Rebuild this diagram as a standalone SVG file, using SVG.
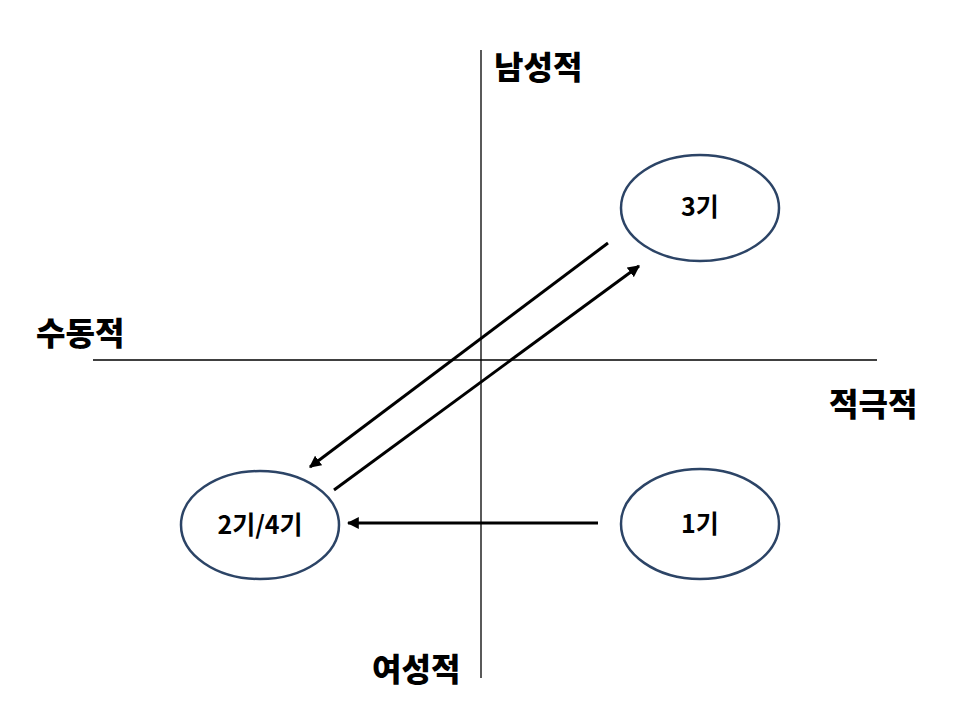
<svg xmlns="http://www.w3.org/2000/svg" width="960" height="720" viewBox="0 0 960 720">
<style>
.axis{stroke:#000;stroke-width:1.3;fill:none}
.node{fill:#fff;stroke:#2C4466;stroke-width:2.5}
.lbl{font-family:"Noto Sans CJK KR","Noto Sans",sans-serif;font-weight:900;font-size:32px;fill:#000}
.nt{font-family:"Noto Sans CJK KR","Noto Sans",sans-serif;font-weight:bold;font-size:25px;fill:#000;text-anchor:middle}
.conn{stroke:#000;stroke-width:3;fill:none;marker-end:url(#ah)}
</style>
<defs>
<marker id="ah" viewBox="0 0 10 10" refX="9" refY="5" markerWidth="4" markerHeight="4" orient="auto" markerUnits="strokeWidth">
<path d="M0,0 L10,5 L0,10 Z" fill="#000"/>
</marker>
</defs>
<rect width="960" height="720" fill="#fff"/>
<g id="axes">
<line class="axis" x1="481" y1="50" x2="481" y2="678"/>
<line class="axis" x1="93" y1="360" x2="877" y2="360"/>
</g>
<g id="axis-labels">
<text class="lbl" x="494" y="79">남성적</text>
<text class="lbl" x="36" y="345">수동적</text>
<text class="lbl" x="829" y="416">적극적</text>
<text class="lbl" x="372" y="681">여성적</text>
</g>
<g id="connectors">
<line class="conn" x1="608" y1="243" x2="310" y2="467"/>
<line class="conn" x1="334" y1="490" x2="639" y2="266"/>
<line class="conn" x1="598" y1="523" x2="348" y2="523"/>
</g>
<g id="node-3">
<ellipse class="node" cx="700" cy="208" rx="79" ry="53"/>
<text class="nt" x="700" y="216">3기</text>
</g>
<g id="node-24">
<ellipse class="node" cx="260" cy="525" rx="79" ry="54"/>
<text class="nt" x="260" y="534">2기/4기</text>
</g>
<g id="node-1">
<ellipse class="node" cx="700" cy="524" rx="79" ry="55"/>
<text class="nt" x="700" y="533">1기</text>
</g>
</svg>
